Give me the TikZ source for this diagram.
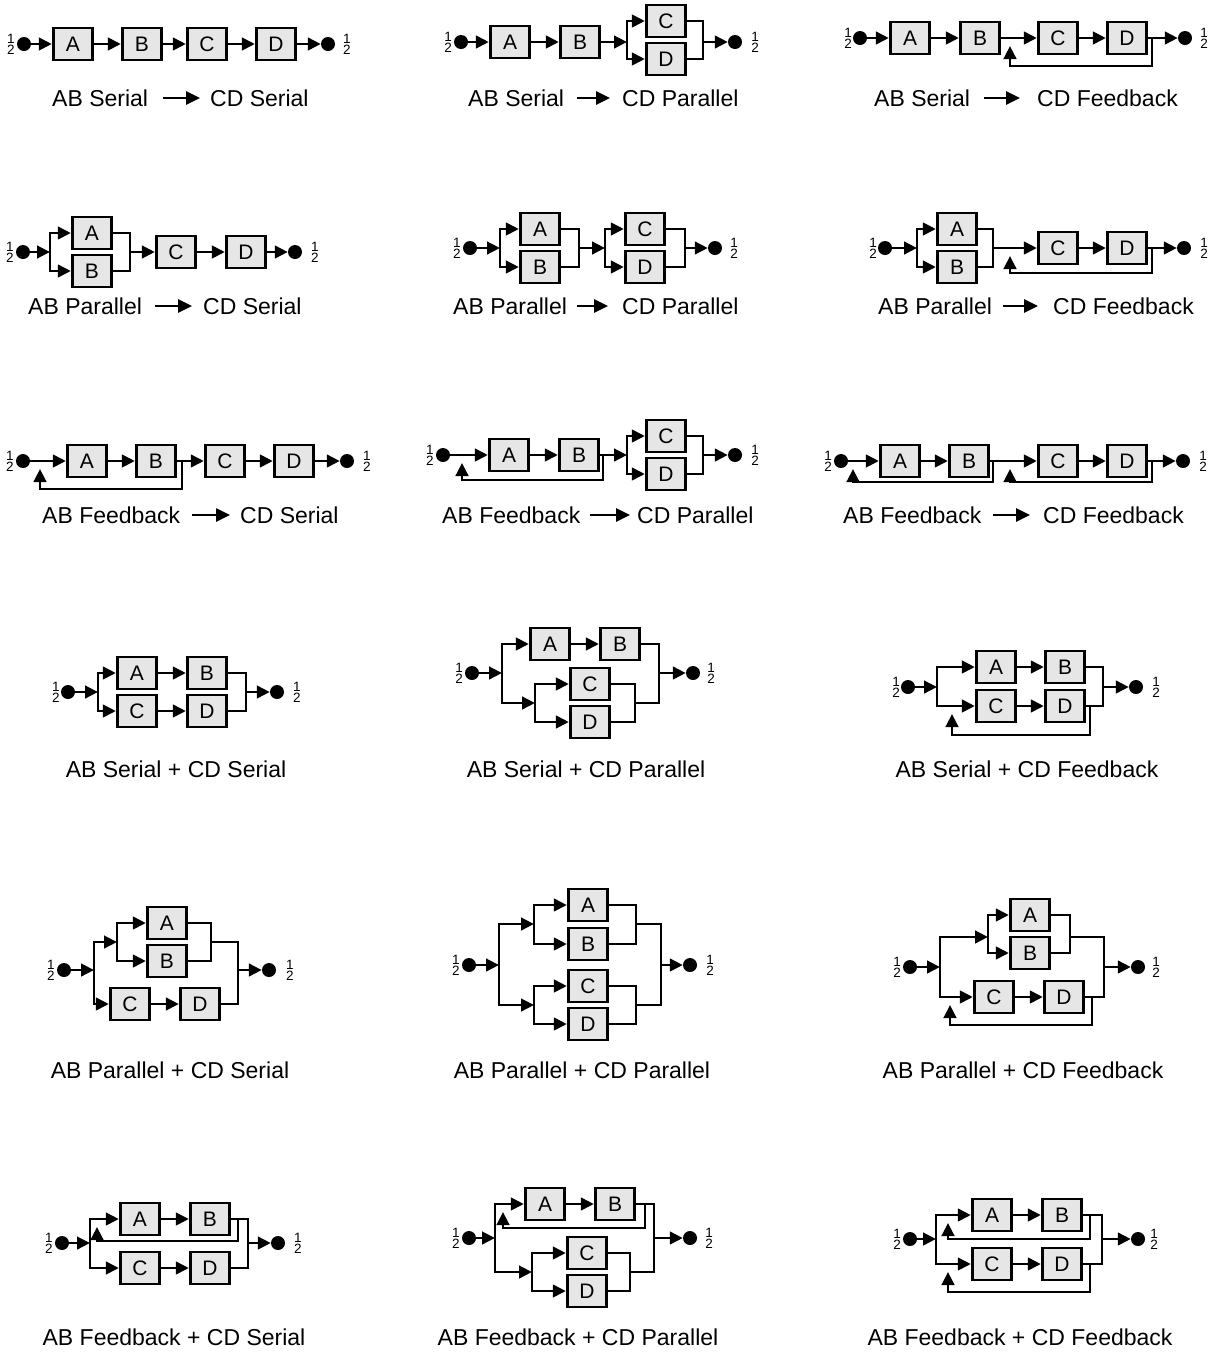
\documentclass[tikz,border=0pt]{standalone}
\usepackage{fontspec}
\setmainfont{Liberation Sans}
\usetikzlibrary{arrows.meta}
\definecolor{boxgray}{HTML}{E6E6E6}
\begin{document}
\begin{tikzpicture}[x=1pt,y=-1pt,
 wire/.style={line width=2.8pt, line join=miter},
 arr/.style={wire, -{Triangle[length=13pt,width=12.5pt]}},
 capar/.style={line width=2.6pt, -{Triangle[length=14pt,width=13pt]}},
 blk/.style={draw, line width=2.8pt, fill=boxgray, minimum width=39.5pt, minimum height=32pt, inner sep=0pt, font=\fontsize{21}{21}\selectfont},
 term/.style={circle, fill=black, minimum size=14pt, inner sep=0pt},
 halfl/.style={align=center, inner sep=0pt, font=\fontsize{13.5}{11}\selectfont},
 captxt/.style={inner sep=0pt, font=\fontsize{23}{23}\selectfont}]
\useasboundingbox[fill=white] (0,0) rectangle (1217,1353);

% ---------- Panel 1: AB Serial -> CD Serial
\node[halfl] (h1a) at (11,44) {1\\2};
\node[term] (i1) at (24,44) {};
\node[blk] (A1) at (73,44) {A};
\node[blk] (B1) at (142,44) {B};
\node[blk] (C1) at (207,44) {C};
\node[blk] (D1) at (276,44) {D};
\node[term] (o1) at (328,44) {};
\node[halfl] (h1b) at (347,44) {1\\2};
\draw[arr] (i1) -- (A1);
\draw[arr] (A1) -- (B1);
\draw[arr] (B1) -- (C1);
\draw[arr] (C1) -- (D1);
\draw[arr] (D1) -- (o1);
\node[captxt,anchor=west] (t1a) at (52,98) {AB Serial};
\node[captxt,anchor=west] (t1b) at (210,98) {CD Serial};
\coordinate (k1a) at (163,98); \coordinate (k1b) at (200,98);
\draw[capar] (k1a) -- (k1b);

% ---------- Panel 2: AB Serial -> CD Parallel
\node[halfl] (h2a) at (448,42) {1\\2};
\node[term] (i2) at (461,42) {};
\node[blk] (A2) at (510,42) {A};
\node[blk] (B2) at (580,42) {B};
\coordinate (j2) at (627,42);
\node[blk] (C2) at (666,21) {C};
\node[blk] (D2) at (666,59) {D};
\coordinate (k2) at (703,42);
\node[term] (o2) at (735,42) {};
\node[halfl] (h2b) at (755,42) {1\\2};
\draw[arr] (i2) -- (A2);
\draw[arr] (A2) -- (B2);
\draw[arr] (B2) -- (j2);
\draw[arr] (j2) |- (C2);
\draw[arr] (j2) |- (D2);
\draw[wire] (C2) -| (k2);
\draw[wire] (D2) -| (k2);
\draw[arr] (k2) -- (o2);
\node[captxt,anchor=west] (t2a) at (468,98) {AB Serial};
\node[captxt,anchor=west] (t2b) at (622,98) {CD Parallel};
\coordinate (k2a) at (577,98); \coordinate (k2b) at (610,98);
\draw[capar] (k2a) -- (k2b);

% ---------- Panel 3: AB Serial -> CD Feedback
\node[halfl] (h3a) at (848,38) {1\\2};
\node[term] (i3) at (860,38) {};
\node[blk] (A3) at (910,38) {A};
\node[blk] (B3) at (980,38) {B};
\node[blk] (C3) at (1058,38) {C};
\node[blk] (D3) at (1127,38) {D};
\node[term] (o3) at (1185,38) {};
\node[halfl] (h3b) at (1204,38) {1\\2};
\coordinate (f3) at (1152,38);
\coordinate (g3) at (1010,46);
\draw[arr] (i3) -- (A3);
\draw[arr] (A3) -- (B3);
\draw[arr] (B3) -- (C3);
\draw[arr] (C3) -- (D3);
\draw[arr] (D3) -- (o3);
\draw[arr] (f3) -- ++(0,28) -| (g3);
\node[captxt,anchor=west] (t3a) at (874,98) {AB Serial};
\node[captxt,anchor=west] (t3b) at (1037,98) {CD Feedback};
\coordinate (k3a) at (984,98); \coordinate (k3b) at (1020,98);
\draw[capar] (k3a) -- (k3b);

% ---------- Panel 4: AB Parallel -> CD Serial
\node[halfl] (h4a) at (10,252) {1\\2};
\node[term] (i4) at (23,252) {};
\coordinate (j4) at (50,252);
\node[blk] (A4) at (92,233) {A};
\node[blk] (B4) at (92,271) {B};
\coordinate (k4) at (130,252);
\node[blk] (C4) at (176,252) {C};
\node[blk] (D4) at (246,252) {D};
\node[term] (o4) at (295,252) {};
\node[halfl] (h4b) at (315,252) {1\\2};
\draw[arr] (i4) -- (j4);
\draw[arr] (j4) |- (A4);
\draw[arr] (j4) |- (B4);
\draw[wire] (A4) -| (k4);
\draw[wire] (B4) -| (k4);
\draw[arr] (k4) -- (C4);
\draw[arr] (C4) -- (D4);
\draw[arr] (D4) -- (o4);
\node[captxt,anchor=west] (t4a) at (28,306) {AB Parallel};
\node[captxt,anchor=west] (t4b) at (203,306) {CD Serial};
\coordinate (k4a) at (155,306); \coordinate (k4b) at (192,306);
\draw[capar] (k4a) -- (k4b);

% ---------- Panel 5: AB Parallel -> CD Parallel
\node[halfl] (h5a) at (457,248) {1\\2};
\node[term] (i5) at (470,248) {};
\coordinate (j5) at (500,248);
\node[blk] (A5) at (540,229) {A};
\node[blk] (B5) at (540,267) {B};
\coordinate (k5) at (579,248);
\coordinate (m5) at (605,248);
\node[blk] (C5) at (645,229) {C};
\node[blk] (D5) at (645,267) {D};
\coordinate (n5) at (685,248);
\node[term] (o5) at (715,248) {};
\node[halfl] (h5b) at (734,248) {1\\2};
\draw[arr] (i5) -- (j5);
\draw[arr] (j5) |- (A5);
\draw[arr] (j5) |- (B5);
\draw[wire] (A5) -| (k5);
\draw[wire] (B5) -| (k5);
\draw[arr] (k5) -- (m5);
\draw[arr] (m5) |- (C5);
\draw[arr] (m5) |- (D5);
\draw[wire] (C5) -| (n5);
\draw[wire] (D5) -| (n5);
\draw[arr] (n5) -- (o5);
\node[captxt,anchor=west] (t5a) at (453,306) {AB Parallel};
\node[captxt,anchor=west] (t5b) at (622,306) {CD Parallel};
\coordinate (k5a) at (577,306); \coordinate (k5b) at (608,306);
\draw[capar] (k5a) -- (k5b);

% ---------- Panel 6: AB Parallel -> CD Feedback
\node[halfl] (h6a) at (873,248) {1\\2};
\node[term] (i6) at (885,248) {};
\coordinate (j6) at (917,248);
\node[blk] (A6) at (957,229) {A};
\node[blk] (B6) at (957,267) {B};
\coordinate (k6) at (993,248);
\node[blk] (C6) at (1058,248) {C};
\node[blk] (D6) at (1127,248) {D};
\node[term] (o6) at (1184,248) {};
\node[halfl] (h6b) at (1204,248) {1\\2};
\coordinate (f6) at (1152,248);
\coordinate (g6) at (1010,256);
\draw[arr] (i6) -- (j6);
\draw[arr] (j6) |- (A6);
\draw[arr] (j6) |- (B6);
\draw[wire] (A6) -| (k6);
\draw[wire] (B6) -| (k6);
\draw[arr] (k6) -- (C6);
\draw[arr] (C6) -- (D6);
\draw[arr] (D6) -- (o6);
\draw[arr] (f6) -- ++(0,25) -| (g6);
\node[captxt,anchor=west] (t6a) at (878,306) {AB Parallel};
\node[captxt,anchor=west] (t6b) at (1053,306) {CD Feedback};
\coordinate (k6a) at (1003,306); \coordinate (k6b) at (1038,306);
\draw[capar] (k6a) -- (k6b);

% ---------- Panel 7: AB Feedback -> CD Serial
\node[halfl] (h7a) at (10,461) {1\\2};
\node[term] (i7) at (23,461) {};
\node[blk] (A7) at (87,461) {A};
\node[blk] (B7) at (156,461) {B};
\node[blk] (C7) at (225,461) {C};
\node[blk] (D7) at (294,461) {D};
\node[term] (o7) at (347,461) {};
\node[halfl] (h7b) at (367,461) {1\\2};
\coordinate (f7) at (182,461);
\coordinate (g7) at (40,469);
\draw[arr] (i7) -- (A7);
\draw[arr] (A7) -- (B7);
\draw[arr] (B7) -- (C7);
\draw[arr] (C7) -- (D7);
\draw[arr] (D7) -- (o7);
\draw[arr] (f7) -- ++(0,28) -| (g7);
\node[captxt,anchor=west] (t7a) at (42,515) {AB Feedback};
\node[captxt,anchor=west] (t7b) at (240,515) {CD Serial};
\coordinate (k7a) at (192,515); \coordinate (k7b) at (230,515);
\draw[capar] (k7a) -- (k7b);

% ---------- Panel 8: AB Feedback -> CD Parallel
\node[halfl] (h8a) at (430,455) {1\\2};
\node[term] (i8) at (443,455) {};
\node[blk] (A8) at (509,455) {A};
\node[blk] (B8) at (579,455) {B};
\coordinate (j8) at (627,455);
\node[blk] (C8) at (666,436) {C};
\node[blk] (D8) at (666,474) {D};
\coordinate (k8) at (703,455);
\node[term] (o8) at (735,455) {};
\node[halfl] (h8b) at (755,455) {1\\2};
\coordinate (f8) at (603,455);
\coordinate (g8) at (462,463);
\draw[arr] (i8) -- (A8);
\draw[arr] (A8) -- (B8);
\draw[arr] (B8) -- (j8);
\draw[arr] (j8) |- (C8);
\draw[arr] (j8) |- (D8);
\draw[wire] (C8) -| (k8);
\draw[wire] (D8) -| (k8);
\draw[arr] (k8) -- (o8);
\draw[arr] (f8) -- ++(0,25) -| (g8);
\node[captxt,anchor=west] (t8a) at (442,515) {AB Feedback};
\node[captxt,anchor=west] (t8b) at (637,515) {CD Parallel};
\coordinate (k8a) at (590,515); \coordinate (k8b) at (630,515);
\draw[capar] (k8a) -- (k8b);

% ---------- Panel 9: AB Feedback -> CD Feedback
\node[halfl] (h9a) at (828,461) {1\\2};
\node[term] (i9) at (841,461) {};
\node[blk] (A9) at (900,461) {A};
\node[blk] (B9) at (969,461) {B};
\node[blk] (C9) at (1058,461) {C};
\node[blk] (D9) at (1127,461) {D};
\node[term] (o9) at (1183,461) {};
\node[halfl] (h9b) at (1203,461) {1\\2};
\coordinate (f9a) at (993,461);
\coordinate (g9a) at (853,469);
\coordinate (f9b) at (1152,461);
\coordinate (g9b) at (1010,469);
\draw[arr] (i9) -- (A9);
\draw[arr] (A9) -- (B9);
\draw[arr] (B9) -- (C9);
\draw[arr] (C9) -- (D9);
\draw[arr] (D9) -- (o9);
\draw[arr] (f9a) -- ++(0,21) -| (g9a);
\draw[arr] (f9b) -- ++(0,21) -| (g9b);
\node[captxt,anchor=west] (t9a) at (843,515) {AB Feedback};
\node[captxt,anchor=west] (t9b) at (1043,515) {CD Feedback};
\coordinate (k9a) at (993,515); \coordinate (k9b) at (1030,515);
\draw[capar] (k9a) -- (k9b);

% ---------- Panel 10: AB Serial + CD Serial
\node[halfl] (h10a) at (56,692) {1\\2};
\node[term] (i10) at (68,692) {};
\coordinate (j10) at (98,692);
\node[blk] (A10) at (137,673) {A};
\node[blk] (B10) at (207,673) {B};
\node[blk] (C10) at (137,711) {C};
\node[blk] (D10) at (207,711) {D};
\coordinate (k10) at (246,692);
\node[term] (o10) at (277,692) {};
\node[halfl] (h10b) at (297,692) {1\\2};
\draw[arr] (i10) -- (j10);
\draw[arr] (j10) |- (A10);
\draw[arr] (j10) |- (C10);
\draw[arr] (A10) -- (B10);
\draw[arr] (C10) -- (D10);
\draw[wire] (B10) -| (k10);
\draw[wire] (D10) -| (k10);
\draw[arr] (k10) -- (o10);
\node[captxt] (t10) at (176,769) {AB Serial + CD Serial};

% ---------- Panel 11: AB Serial + CD Parallel
\node[halfl] (h11a) at (459,673) {1\\2};
\node[term] (i11) at (472,673) {};
\coordinate (j11) at (502,673);
\node[blk] (A11) at (550,644) {A};
\node[blk] (B11) at (620,644) {B};
\coordinate (m11) at (535,703);
\node[blk] (C11) at (590,684) {C};
\node[blk] (D11) at (590,722) {D};
\coordinate (n11) at (635,703);
\coordinate (k11) at (659,673);
\node[term] (o11) at (693,673) {};
\node[halfl] (h11b) at (711,673) {1\\2};
\draw[arr] (i11) -- (j11);
\draw[arr] (j11) |- (A11);
\draw[arr] (j11) |- (m11);
\draw[arr] (A11) -- (B11);
\draw[arr] (m11) |- (C11);
\draw[arr] (m11) |- (D11);
\draw[wire] (C11) -| (n11);
\draw[wire] (D11) -| (n11);
\draw[wire] (B11) -| (k11);
\draw[wire] (n11) -| (k11);
\draw[arr] (k11) -- (o11);
\node[captxt] (t11) at (586,769) {AB Serial + CD Parallel};

% ---------- Panel 12: AB Serial + CD Feedback
\node[halfl] (h12a) at (896,687) {1\\2};
\node[term] (i12) at (908,687) {};
\coordinate (j12) at (937,687);
\node[blk] (A12) at (996,667) {A};
\node[blk] (B12) at (1065,667) {B};
\node[blk] (C12) at (996,706) {C};
\node[blk] (D12) at (1065,706) {D};
\coordinate (k12) at (1103,687);
\node[term] (o12) at (1136,687) {};
\node[halfl] (h12b) at (1156,687) {1\\2};
\coordinate (f12) at (1090,706);
\coordinate (g12) at (952,714);
\draw[arr] (i12) -- (j12);
\draw[arr] (j12) |- (A12);
\draw[arr] (j12) |- (C12);
\draw[arr] (A12) -- (B12);
\draw[arr] (C12) -- (D12);
\draw[wire] (B12) -| (k12);
\draw[wire] (D12) -| (k12);
\draw[arr] (k12) -- (o12);
\draw[arr] (f12) -- ++(0,29) -| (g12);
\node[captxt] (t12) at (1027,769) {AB Serial + CD Feedback};

% ---------- Panel 13: AB Parallel + CD Serial
\node[halfl] (h13a) at (51,970) {1\\2};
\node[term] (i13) at (64,970) {};
\coordinate (j13) at (94,970);
\coordinate (m13) at (117,942);
\node[blk] (A13) at (167,923) {A};
\node[blk] (B13) at (167,961) {B};
\coordinate (n13) at (211,942);
\node[blk] (C13) at (130,1004) {C};
\node[blk] (D13) at (200,1004) {D};
\coordinate (k13) at (238,970);
\node[term] (o13) at (269,970) {};
\node[halfl] (h13b) at (290,970) {1\\2};
\draw[arr] (i13) -- (j13);
\draw[arr] (j13) |- (m13);
\draw[arr] (m13) |- (A13);
\draw[arr] (m13) |- (B13);
\draw[wire] (A13) -| (n13);
\draw[wire] (B13) -| (n13);
\draw[arr] (j13) |- (C13);
\draw[arr] (C13) -- (D13);
\draw[wire] (n13) -| (k13);
\draw[wire] (D13) -| (k13);
\draw[arr] (k13) -- (o13);
\node[captxt] (t13) at (170,1070) {AB Parallel + CD Serial};

% ---------- Panel 14: AB Parallel + CD Parallel
\node[halfl] (h14a) at (456,965) {1\\2};
\node[term] (i14) at (469,965) {};
\coordinate (j14) at (499,965);
\coordinate (m14) at (534,924);
\node[blk] (A14) at (588,905) {A};
\node[blk] (B14) at (588,944) {B};
\coordinate (n14) at (636,924);
\coordinate (p14) at (534,1005);
\node[blk] (C14) at (588,986) {C};
\node[blk] (D14) at (588,1024) {D};
\coordinate (q14) at (636,1005);
\coordinate (k14) at (661,965);
\node[term] (o14) at (690,965) {};
\node[halfl] (h14b) at (710,965) {1\\2};
\draw[arr] (i14) -- (j14);
\draw[arr] (j14) |- (m14);
\draw[arr] (j14) |- (p14);
\draw[arr] (m14) |- (A14);
\draw[arr] (m14) |- (B14);
\draw[wire] (A14) -| (n14);
\draw[wire] (B14) -| (n14);
\draw[arr] (p14) |- (C14);
\draw[arr] (p14) |- (D14);
\draw[wire] (C14) -| (q14);
\draw[wire] (D14) -| (q14);
\draw[wire] (n14) -| (k14);
\draw[wire] (q14) -| (k14);
\draw[arr] (k14) -- (o14);
\node[captxt] (t14) at (582,1070) {AB Parallel + CD Parallel};

% ---------- Panel 15: AB Parallel + CD Feedback
\node[halfl] (h15a) at (897,967) {1\\2};
\node[term] (i15) at (910,967) {};
\coordinate (j15) at (940,967);
\coordinate (m15) at (988,937);
\node[blk] (A15) at (1030,915) {A};
\node[blk] (B15) at (1030,953) {B};
\coordinate (n15) at (1070,937);
\node[blk] (C15) at (994,997) {C};
\node[blk] (D15) at (1064,997) {D};
\coordinate (k15) at (1104,967);
\node[term] (o15) at (1138,967) {};
\node[halfl] (h15b) at (1156,967) {1\\2};
\coordinate (f15) at (1092,997);
\coordinate (g15) at (950,1005);
\draw[arr] (i15) -- (j15);
\draw[arr] (j15) |- (m15);
\draw[arr] (m15) |- (A15);
\draw[arr] (m15) |- (B15);
\draw[wire] (A15) -| (n15);
\draw[wire] (B15) -| (n15);
\draw[arr] (j15) |- (C15);
\draw[arr] (C15) -- (D15);
\draw[wire] (n15) -| (k15);
\draw[wire] (D15) -| (k15);
\draw[arr] (k15) -- (o15);
\draw[arr] (f15) -- ++(0,28) -| (g15);
\node[captxt] (t15) at (1023,1070) {AB Parallel + CD Feedback};

% ---------- Panel 16: AB Feedback + CD Serial
\node[halfl] (h16a) at (49,1243) {1\\2};
\node[term] (i16) at (62,1243) {};
\coordinate (j16) at (90,1243);
\node[blk] (A16) at (140,1219) {A};
\node[blk] (B16) at (210,1219) {B};
\node[blk] (C16) at (140,1268) {C};
\node[blk] (D16) at (210,1268) {D};
\coordinate (k16) at (248,1243);
\node[term] (o16) at (278,1243) {};
\node[halfl] (h16b) at (298,1243) {1\\2};
\coordinate (f16) at (238,1219);
\coordinate (g16) at (97,1227);
\draw[arr] (i16) -- (j16);
\draw[arr] (j16) |- (A16);
\draw[arr] (j16) |- (C16);
\draw[arr] (A16) -- (B16);
\draw[arr] (C16) -- (D16);
\draw[wire] (B16) -| (k16);
\draw[wire] (D16) -| (k16);
\draw[arr] (k16) -- (o16);
\draw[arr] (f16) -- ++(0,22) -| (g16);
\node[captxt] (t16) at (174,1337) {AB Feedback + CD Serial};

% ---------- Panel 17: AB Feedback + CD Parallel
\node[halfl] (h17a) at (456,1238) {1\\2};
\node[term] (i17) at (469,1238) {};
\coordinate (j17) at (495,1238);
\node[blk] (A17) at (545,1204) {A};
\node[blk] (B17) at (615,1204) {B};
\coordinate (f17) at (645,1204);
\coordinate (g17) at (503,1212);
\coordinate (m17) at (532,1272);
\node[blk] (C17) at (587,1253) {C};
\node[blk] (D17) at (587,1291) {D};
\coordinate (n17) at (630,1272);
\coordinate (k17) at (654,1238);
\node[term] (o17) at (690,1238) {};
\node[halfl] (h17b) at (709,1238) {1\\2};
\draw[arr] (i17) -- (j17);
\draw[arr] (j17) |- (A17);
\draw[arr] (j17) |- (m17);
\draw[arr] (A17) -- (B17);
\draw[arr] (m17) |- (C17);
\draw[arr] (m17) |- (D17);
\draw[wire] (C17) -| (n17);
\draw[wire] (D17) -| (n17);
\draw[wire] (B17) -| (k17);
\draw[wire] (n17) -| (k17);
\draw[arr] (k17) -- (o17);
\draw[arr] (f17) -- ++(0,24) -| (g17);
\node[captxt] (t17) at (578,1337) {AB Feedback + CD Parallel};

% ---------- Panel 18: AB Feedback + CD Feedback
\node[halfl] (h18a) at (897,1239) {1\\2};
\node[term] (i18) at (910,1239) {};
\coordinate (j18) at (936,1239);
\node[blk] (A18) at (992,1215) {A};
\node[blk] (B18) at (1062,1215) {B};
\node[blk] (C18) at (992,1264) {C};
\node[blk] (D18) at (1062,1264) {D};
\coordinate (k18) at (1102,1239);
\node[term] (o18) at (1138,1239) {};
\node[halfl] (h18b) at (1154,1239) {1\\2};
\coordinate (f18a) at (1090,1215);
\coordinate (g18a) at (948,1223);
\coordinate (f18b) at (1090,1264);
\coordinate (g18b) at (948,1272);
\draw[arr] (i18) -- (j18);
\draw[arr] (j18) |- (A18);
\draw[arr] (j18) |- (C18);
\draw[arr] (A18) -- (B18);
\draw[arr] (C18) -- (D18);
\draw[wire] (B18) -| (k18);
\draw[wire] (D18) -| (k18);
\draw[arr] (k18) -- (o18);
\draw[arr] (f18a) -- ++(0,24) -| (g18a);
\draw[arr] (f18b) -- ++(0,28) -| (g18b);
\node[captxt] (t18) at (1020,1337) {AB Feedback + CD Feedback};
\end{tikzpicture}
\end{document}
